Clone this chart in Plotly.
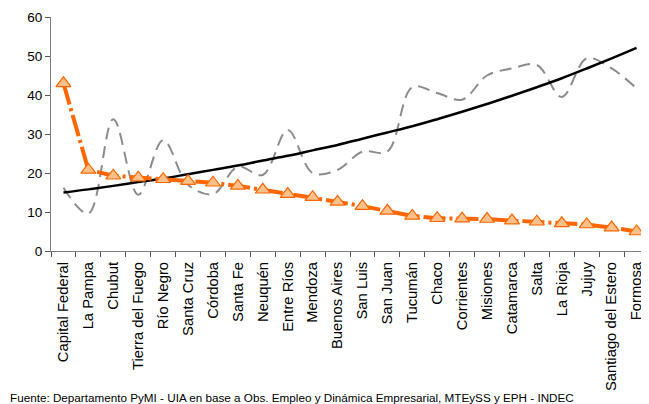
import plotly.graph_objects as go

provincias = ["Capital Federal", "La Pampa", "Chubut", "Tierra del Fuego", "Río Negro",
              "Santa Cruz", "Córdoba", "Santa Fe", "Neuquén", "Entre Ríos", "Mendoza",
              "Buenos Aires", "San Luis", "San Juan", "Tucumán", "Chaco", "Corrientes",
              "Misiones", "Catamarca", "Salta", "La Rioja", "Jujuy", "Santiago del Estero",
              "Formosa"]

serie_naranja = [43.0, 20.8, 19.3, 18.8, 18.4, 17.9, 17.5, 16.7, 15.7, 14.6, 13.8, 12.6,
                 11.5, 10.3, 9.0, 8.4, 8.3, 8.2, 7.8, 7.5, 7.1, 6.8, 6.0, 5.0]

serie_gris = [16.2, 9.6, 33.8, 14.4, 28.4, 17.0, 14.6, 21.6, 19.5, 31.0, 20.0, 20.8,
              25.5, 25.5, 42.0, 40.5, 38.8, 45.0, 46.8, 47.7, 39.5, 49.4, 46.8, 41.7]

tendencia = [15.0, 15.8, 16.7, 17.7, 18.6, 19.7, 20.8, 21.9, 23.2, 24.4, 25.8, 27.2,
             28.8, 30.4, 32.0, 33.8, 35.7, 37.7, 39.8, 42.0, 44.3, 46.8, 49.4, 52.1]

y_ticks = [0, 10, 20, 30, 40, 50, 60]

fuente = "Fuente: Departamento PyMI - UIA en base a Obs. Empleo y Dinámica Empresarial, MTEySS y EPH - INDEC"

fig = go.Figure()

fig.add_trace(go.Scatter(
    x=provincias, y=serie_gris, mode="lines",
    line=dict(color="#8c8c8c", width=2, dash="12px,7px", shape="spline", smoothing=1.0),
    showlegend=False, hoverinfo="skip"))

fig.add_trace(go.Scatter(
    x=provincias, y=tendencia, mode="lines",
    line=dict(color="#000000", width=2.5, shape="spline"),
    showlegend=False))

fig.add_trace(go.Scatter(
    x=provincias, y=serie_naranja, mode="lines+markers",
    line=dict(color="#ff6600", width=4, dash="22px,4px,3px,4px"),
    marker=dict(symbol="triangle-up", size=13, color="#ffc089",
                line=dict(color="#ff6600", width=1.2)),
    showlegend=False))

# page body adds an 8px offset, so the figure is 8px smaller each way
fig.update_layout(
    width=641, height=396,
    margin=dict(l=43, r=0, t=9, b=153),
    paper_bgcolor="white", plot_bgcolor="white",
    font=dict(family="Liberation Sans, Arial, sans-serif", size=13, color="#000000"),
    xaxis=dict(
        type="category", range=[-0.5, 23.5], tickangle=-90, automargin=False,
        showline=True, linecolor="#808080", linewidth=1,
        ticks="outside", ticklen=5, tickcolor="#555555", tickson="boundaries",
        ticklabelstandoff=4,
        showgrid=False, zeroline=False,
        tickfont=dict(size=14.8, color="#000000")),
    yaxis=dict(
        range=[0, 60], tickvals=y_ticks, automargin=False,
        showline=True, linecolor="#808080", linewidth=1,
        ticks="outside", ticklen=5, tickcolor="#555555",
        showgrid=False, zeroline=False,
        tickfont=dict(size=13.5, color="#000000")),
    annotations=[dict(
        text=fuente, xref="paper", yref="paper", x=-43/598, y=-146/234,
        xanchor="left", yanchor="middle", showarrow=False,
        font=dict(size=11.7, color="#000000"))]
)

fig.write_html("out.html")
